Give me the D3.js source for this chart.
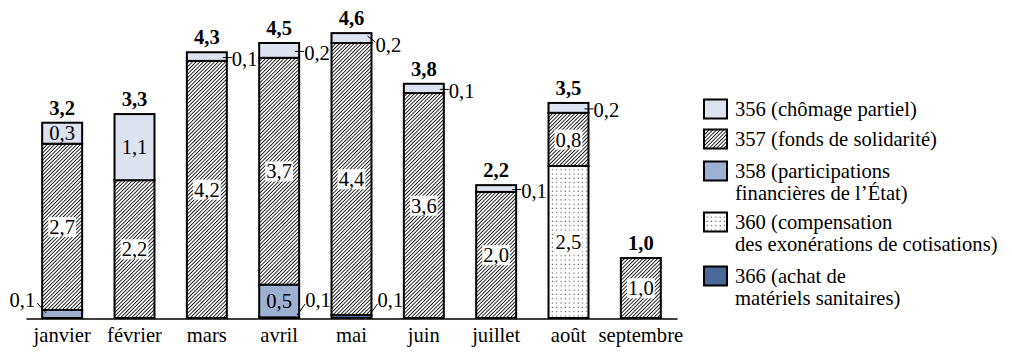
<!DOCTYPE html>
<html><head><meta charset="utf-8">
<script src="https://cdn.jsdelivr.net/npm/d3@7"></script>
<style>
body{margin:0;background:#fff}
text{font-family:"Liberation Serif","DejaVu Serif",serif;fill:#000}
</style>
</head><body>
<svg id="c" width="1012" height="359"></svg>
<script>
// ---------- data ----------
const categories = ["janvier","février","mars","avril","mai","juin","juillet","août","septembre"];
// stacking order, bottom to top
const seriesKeys = ["366","358","360","357","356"];
const v366 = [0, 0, 0, 0.01, 0.05, 0, 0, 0, 0];
const v358 = [0.13, 0, 0, 0.53, 0, 0, 0, 0, 0];
const v360 = [0, 0, 0, 0, 0, 0, 0, 2.46, 0];
const v357 = [2.69, 2.23, 4.16, 3.67, 4.40, 3.64, 2.04, 0.86, 0.97];
const v356 = [0.34, 1.07, 0.14, 0.24, 0.16, 0.15, 0.11, 0.16, 0];
const l366 = ["", "", "", "0,1", "0,1", "", "", "", ""];
const l358 = ["0,1", "", "", "0,5", "", "", "", "", ""];
const l360 = ["", "", "", "", "", "", "", "2,5", ""];
const l357 = ["2,7", "2,2", "4,2", "3,7", "4,4", "3,6", "2,0", "0,8", "1,0"];
const l356 = ["0,3", "1,1", "0,1", "0,2", "0,2", "0,1", "0,1", "0,2", ""];
const totals = ["3,2", "3,3", "4,3", "4,5", "4,6", "3,8", "2,2", "3,5", "1,0"];
const legendKeys = ["356","357","358","360","366"];
const legendLabels = [
  ["356 (chômage partiel)"],
  ["357 (fonds de solidarité)"],
  ["358 (participations", "financières de l’État)"],
  ["360 (compensation", "des exonérations de cotisations)"],
  ["366 (achat de", "matériels sanitaires)"]
];
// ---------- build table ----------
const valuesBy = {"366": v366, "358": v358, "360": v360, "357": v357, "356": v356};
const labelsBy = {"366": l366, "358": l358, "360": l360, "357": l357, "356": l356};
const table = categories.map((c, i) => {
  const row = {cat: c, i: i};
  seriesKeys.forEach(k => row[k] = valuesBy[k][i]);
  return row;
});
const stacked = d3.stack().keys(seriesKeys)(table);

// ---------- layout ----------
const svg = d3.select("#c");
const baseY = 318;
const x = d3.scaleBand().domain(categories).range([26, 677]).paddingInner(0.4475).paddingOuter(0.2238);
const y = d3.scaleLinear().domain([0, 4.6]).range([baseY, baseY - 4.6 * 61.8]);
const FS = 20.6;

const defs = svg.append("defs");
const hatch = defs.append("pattern").attr("id", "hatch").attr("patternUnits", "userSpaceOnUse")
  .attr("width", 2.6).attr("height", 2.6).attr("patternTransform", "rotate(45)");
hatch.append("rect").attr("width", 2.6).attr("height", 2.6).attr("fill", "#fff");
hatch.append("line").attr("x1", 0.5).attr("y1", 0).attr("x2", 0.5).attr("y2", 2.6)
  .attr("stroke", "#000").attr("stroke-width", 0.85);
const dots = defs.append("pattern").attr("id", "dots").attr("patternUnits", "userSpaceOnUse")
  .attr("width", 4.3).attr("height", 4.3);
dots.append("rect").attr("width", 4.3).attr("height", 4.3).attr("fill", "#fff");
dots.append("rect").attr("x", 1.5).attr("y", 1.5).attr("width", 1).attr("height", 1).attr("fill", "#222");

const fills = {"356": "#dce3ef", "357": "url(#hatch)", "358": "#9db0d1", "360": "url(#dots)", "366": "#4a6899"};

// bars
const gBars = svg.append("g");
stacked.forEach(s => {
  gBars.selectAll(null).data(s.filter(d => d[1] - d[0] > 0)).enter().append("rect")
    .attr("x", d => x(d.data.cat))
    .attr("width", x.bandwidth())
    .attr("y", d => y(d[1]))
    .attr("height", d => y(d[0]) - y(d[1]))
    .attr("fill", fills[s.key])
    .attr("stroke", "#000").attr("stroke-width", 2);
});

// axis
const axis = svg.append("g").attr("transform", `translate(0,${baseY + 0.5})`)
  .call(d3.axisBottom(x).tickSize(0).tickSizeOuter(0).tickPadding(8.5));
axis.select(".domain").attr("stroke", "#000").attr("stroke-width", 1.6);
axis.selectAll("text").attr("font-size", FS).attr("font-family", "Liberation Serif");

// value labels
const gLab = svg.append("g");
const topLeaderDiag = ["mai"];
stacked.forEach(s => {
  s.forEach(d => {
    const txt = labelsBy[s.key][d.data.i];
    if (!txt) return;
    const x0 = x(d.data.cat), x1 = x0 + x.bandwidth(), cx = x0 + x.bandwidth() / 2;
    const yTop = y(d[1]), yBot = y(d[0]);
    const h = yBot - yTop;
    if (h >= 18) {
      const cy = (yTop + yBot) / 2;
      const t = gLab.append("text").attr("x", cx).attr("y", cy).attr("dy", "0.35em")
        .attr("text-anchor", "middle").attr("font-size", FS).text(txt);
      if (s.key === "357" || s.key === "360") {
        const bb = t.node().getBBox();
        gLab.insert("rect", () => t.node()).attr("x", bb.x - 1).attr("y", bb.y + 1)
          .attr("width", bb.width + 2).attr("height", bb.height - 2).attr("fill", "#fff");
      }
    } else if (d[0] === 0) {
      // bottom callout
      if (d.data.i === 0) {
        gLab.append("line").attr("x1", x0 + 4).attr("y1", baseY - 5).attr("x2", x0 - 5).attr("y2", baseY - 15)
          .attr("stroke", "#000").attr("stroke-width", 1);
        gLab.append("text").attr("x", x0 - 7).attr("y", baseY - 18).attr("dy", "0.35em")
          .attr("text-anchor", "end").attr("font-size", FS).text(txt);
      } else {
        gLab.append("line").attr("x1", x1 - 2).attr("y1", baseY - 3).attr("x2", x1 + 6).attr("y2", baseY - 14)
          .attr("stroke", "#000").attr("stroke-width", 1);
        gLab.append("text").attr("x", x1 + 6).attr("y", baseY - 18).attr("dy", "0.35em")
          .attr("font-size", FS).text(txt);
      }
    } else {
      const cy = (yTop + yBot) / 2;
      if (topLeaderDiag.includes(d.data.cat)) {
        gLab.append("line").attr("x1", x1 - 4).attr("y1", yTop + 3).attr("x2", x1 + 4).attr("y2", yTop + 9)
          .attr("stroke", "#000").attr("stroke-width", 1);
        gLab.append("text").attr("x", x1 + 4).attr("y", yTop + 12).attr("dy", "0.35em")
          .attr("font-size", FS).text(txt);
      } else {
        gLab.append("line").attr("x1", x1 - 4).attr("y1", cy + 1).attr("x2", x1 + 5).attr("y2", cy + 1)
          .attr("stroke", "#000").attr("stroke-width", 1);
        gLab.append("text").attr("x", x1 + 5).attr("y", cy + 2).attr("dy", "0.35em")
          .attr("font-size", FS).text(txt);
      }
    }
  });
});

// totals
const topLayer = stacked[stacked.length - 1];
gLab.selectAll(null).data(topLayer).enter().append("text")
  .attr("x", d => x(d.data.cat) + x.bandwidth() / 2)
  .attr("y", d => y(d[1]) - 8)
  .attr("text-anchor", "middle").attr("font-size", FS).attr("font-weight", "bold")
  .text(d => totals[d.data.i]);

// legend
const gLeg = svg.append("g");
const boxCenters = [109, 139, 171, 222, 276];
legendKeys.forEach((k, i) => {
  const cy = boxCenters[i];
  gLeg.append("rect").attr("x", 704).attr("y", cy - 9.5).attr("width", 23).attr("height", 19)
    .attr("fill", fills[k]).attr("stroke", "#000").attr("stroke-width", 2);
  legendLabels[i].forEach((line, j) => {
    gLeg.append("text").attr("x", 735).attr("y", cy + 7 + j * 22).attr("font-size", FS).text(line);
  });
});
</script>
</body></html>
